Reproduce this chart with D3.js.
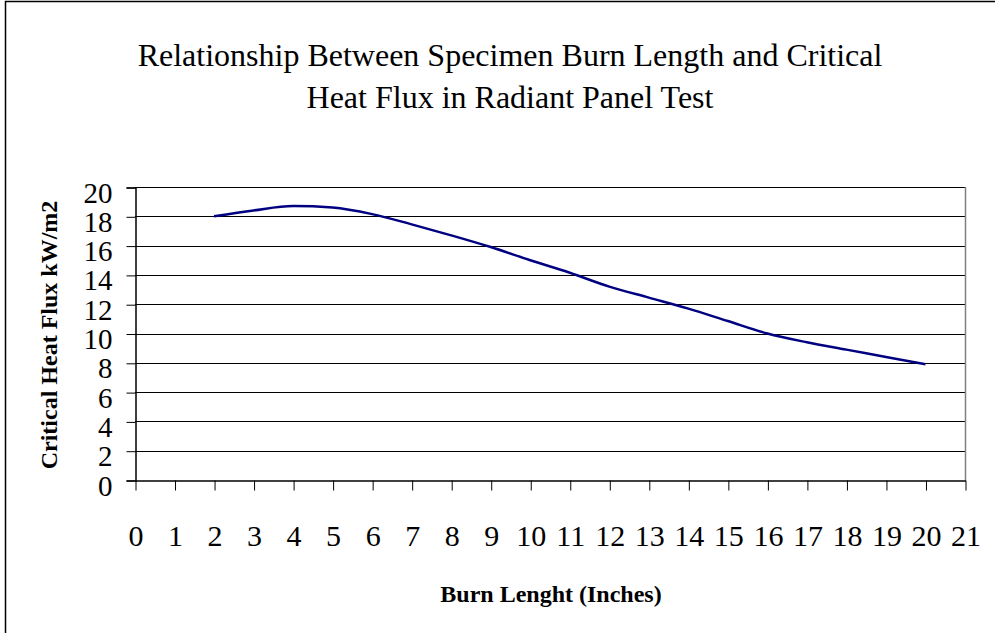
<!DOCTYPE html>
<html>
<head>
<meta charset="utf-8">
<script src="https://cdn.jsdelivr.net/npm/d3@7"></script>
<style>
  body { margin: 0; background: #fff; }
  text { font-family: "Liberation Serif", "Times New Roman", serif; fill: #000; }
</style>
</head>
<body>
<div id="chart"></div>
<script>
// values
const burnLength = [2, 3, 4, 5, 6, 7, 8, 9, 10, 11, 12, 13, 14, 15, 16, 17, 18, 19, 20];
const heatFlux = [18.0, 18.4, 18.7, 18.6, 18.15, 17.45, 16.7, 15.9, 15.0, 14.15, 13.2, 12.45, 11.7, 10.85, 10.0, 9.4, 8.9, 8.4, 7.9];
const xTicks = d3.range(0, 22);
const yTicks = d3.range(0, 21, 2);
const titleLines = ['Relationship Between Specimen Burn Length and Critical', 'Heat Flux in Radiant Panel Test'];

const width = 995, height = 633;
const plot = { left: 135, right: 965, top: 187, bottom: 480 };

const svg = d3.select('#chart').append('svg')
	.attr('width', width).attr('height', height);

// chart frame
svg.append('rect')
	.attr('x', 5.5).attr('y', 1.5)
	.attr('width', 1200).attr('height', 800)
	.attr('fill', 'none').attr('stroke', '#000').attr('stroke-width', 1.5);

const x = d3.scaleLinear().domain([0, 21]).range([plot.left, plot.right]);
const y = d3.scaleLinear().domain([0, 20]).range([plot.bottom, plot.top]);

// gridlines
svg.append('g').selectAll('line').data(yTicks.filter(d => d > 0)).enter()
	.append('line')
	.attr('x1', plot.left).attr('x2', plot.right)
	.attr('y1', d => Math.round(y(d)) + 0.5).attr('y2', d => Math.round(y(d)) + 0.5)
	.attr('stroke', '#000').attr('stroke-width', 1);

// right side of plot area
svg.append('line')
	.attr('x1', plot.right + 0.5).attr('x2', plot.right + 0.5)
	.attr('y1', plot.top).attr('y2', plot.bottom)
	.attr('stroke', '#808080').attr('stroke-width', 1.5);

// y axis
const yAxis = d3.axisLeft(y).tickValues(yTicks).tickSize(9).tickPadding(14);
svg.append('g')
	.attr('transform', `translate(${plot.left + 0.5},0.5)`)
	.call(yAxis)
	.call(g => g.select('.domain').attr('stroke', '#000').attr('stroke-width', 1.5))
	.call(g => g.selectAll('.tick line').attr('stroke', '#000'))
	.call(g => g.selectAll('.tick text')
		.attr('font-family', '"Liberation Serif", serif')
		.attr('font-size', 29).attr('dy', '0.5em').attr('fill', '#000'));

// x axis
const xAxis = d3.axisBottom(x).tickValues(xTicks).tickSize(10).tickSizeOuter(0).tickPadding(34);
svg.append('g')
	.attr('transform', `translate(0.5,${plot.bottom + 0.5})`)
	.call(xAxis)
	.call(g => g.select('.domain').attr('stroke', '#000').attr('stroke-width', 1.5))
	.call(g => g.selectAll('.tick line').attr('stroke', '#000'))
	.call(g => g.selectAll('.tick text')
		.attr('font-family', '"Liberation Serif", serif')
		.attr('font-size', 30).attr('fill', '#000'));

// the curve
const line = d3.line()
	.x((d, i) => x(burnLength[i]))
	.y(d => y(d))
	.curve(d3.curveMonotoneX);
svg.append('path')
	.datum(heatFlux)
	.attr('d', line)
	.attr('fill', 'none')
	.attr('stroke', '#000080')
	.attr('stroke-width', 2.5);

// title
svg.append('text')
	.attr('x', 510).attr('y', 66)
	.attr('text-anchor', 'middle')
	.attr('font-size', 32)
	.selectAll('tspan').data(titleLines).enter()
	.append('tspan')
	.attr('x', 510).attr('dy', (d, i) => i ? 42 : 0)
	.text(d => d);

// axis titles
svg.append('text')
	.attr('transform', 'translate(57,335) rotate(-90)')
	.attr('text-anchor', 'middle')
	.attr('font-size', 24).attr('font-weight', 'bold')
	.text('Critical Heat Flux kW/m2');

svg.append('text')
	.attr('x', 551).attr('y', 602)
	.attr('text-anchor', 'middle')
	.attr('font-size', 24).attr('font-weight', 'bold')
	.text('Burn Lenght (Inches)');
</script>
</body>
</html>
